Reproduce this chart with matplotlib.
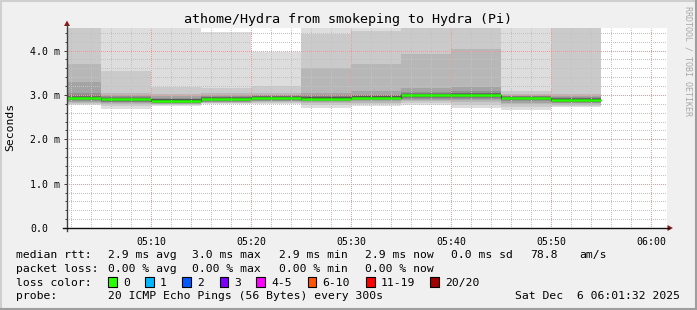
import numpy as np
import matplotlib
matplotlib.use("Agg")
import matplotlib.pyplot as plt
from matplotlib.patches import Rectangle, Polygon
from matplotlib.lines import Line2D

# ---------------- data ----------------
# 5-minute step end times, minutes after 05:00
step_end_min = [5, 10, 15, 20, 25, 30, 35, 40, 45, 50, 55]
# median rtt per step (ms)
median_ms = [2.93, 2.90, 2.87, 2.91, 2.93, 2.92, 2.94, 2.99, 3.00, 2.93, 2.89]
# sorted rtts of the 20 pings per step (ms)
pings_0505 = [2.77, 2.80, 2.83, 2.85, 2.86, 2.88, 2.89, 2.90, 2.91, 2.92, 2.94, 2.95, 2.96, 2.98, 3.00, 3.05, 3.30, 3.70, 4.80, 6.00]
pings_0510 = [2.69, 2.75, 2.79, 2.82, 2.84, 2.85, 2.86, 2.87, 2.88, 2.89, 2.91, 2.92, 2.93, 2.94, 2.95, 2.97, 3.01, 3.04, 3.55, 5.00]
pings_0515 = [2.76, 2.78, 2.79, 2.80, 2.81, 2.82, 2.83, 2.84, 2.85, 2.86, 2.88, 2.89, 2.90, 2.91, 2.92, 2.94, 2.97, 3.02, 3.17, 4.60]
pings_0520 = [2.79, 2.81, 2.83, 2.84, 2.85, 2.86, 2.87, 2.88, 2.89, 2.90, 2.92, 2.93, 2.94, 2.95, 2.96, 2.97, 3.00, 3.05, 3.16, 4.41]
pings_0525 = [2.80, 2.82, 2.84, 2.86, 2.87, 2.88, 2.89, 2.90, 2.91, 2.92, 2.94, 2.95, 2.96, 2.97, 2.98, 2.99, 3.01, 3.05, 3.20, 3.96]
pings_0530 = [2.70, 2.77, 2.81, 2.84, 2.86, 2.87, 2.88, 2.89, 2.90, 2.91, 2.93, 2.94, 2.95, 2.96, 2.97, 2.99, 3.04, 3.60, 4.37, 5.00]
pings_0535 = [2.76, 2.80, 2.83, 2.86, 2.88, 2.89, 2.90, 2.91, 2.92, 2.93, 2.95, 2.96, 2.97, 2.98, 2.99, 3.01, 3.08, 3.70, 4.44, 5.00]
pings_0540 = [2.78, 2.82, 2.86, 2.89, 2.91, 2.93, 2.95, 2.96, 2.97, 2.98, 3.00, 3.01, 3.02, 3.03, 3.04, 3.06, 3.15, 3.93, 4.70, 5.00]
pings_0545 = [2.70, 2.78, 2.85, 2.89, 2.92, 2.94, 2.96, 2.97, 2.98, 2.99, 3.01, 3.02, 3.03, 3.04, 3.05, 3.08, 3.17, 4.04, 4.80, 5.00]
pings_0550 = [2.66, 2.73, 2.79, 2.83, 2.86, 2.88, 2.89, 2.90, 2.91, 2.92, 2.94, 2.94, 2.95, 2.96, 2.97, 2.98, 3.00, 3.02, 3.09, 5.00]
pings_0555 = [2.72, 2.75, 2.78, 2.81, 2.83, 2.84, 2.85, 2.86, 2.87, 2.88, 2.90, 2.91, 2.92, 2.93, 2.94, 2.95, 2.97, 3.02, 4.80, 5.00]

x_tick_min = [10, 20, 30, 40, 50, 60]
x_tick_labels = ["05:10", "05:20", "05:30", "05:40", "05:50", "06:00"]
y_tick_vals = [0, 1, 2, 3, 4]
y_tick_labels = ["0.0", "1.0 m", "2.0 m", "3.0 m", "4.0 m"]

title = "athome/Hydra from smokeping to Hydra (Pi)"
rtt_stats = ["2.9 ms avg", "3.0 ms max", "2.9 ms min", "2.9 ms now", "0.0 ms sd", "78.8", "am/s"]
loss_stats = ["0.00 % avg", "0.00 % max", "0.00 % min", "0.00 % now"]
loss_labels = ["0", "1", "2", "3", "4-5", "6-10", "11-19", "20/20"]
loss_colors = ["#26ff00", "#00b8ff", "#0059ff", "#7e00ff", "#ff00ff", "#ff5500", "#ff0000", "#a10000"]
probe_text = "20 ICMP Echo Pings (56 Bytes) every 300s"
date_text = "Sat Dec  6 06:01:32 2025"

# ---------------- figure ----------------
W, H = 697, 310
MONO = "DejaVu Sans Mono"
fig = plt.figure(figsize=(W / 100, H / 100), dpi=100, facecolor="#f0f0f0")

def fx(x):
    return x / W

def fy(y):
    return 1 - y / H

ax_l, ax_r, ax_b, ax_t = 67, 667, 228, 28
ax = fig.add_axes([fx(ax_l), fy(ax_b), (ax_r - ax_l) / W, (ax_b - ax_t) / H])
ax.set_facecolor("white")
ax.set_xlim(1.6, 61.6)
ax.set_ylim(0, 4.51)
for s in ax.spines.values():
    s.set_visible(False)

pings = np.array([pings_0505, pings_0510, pings_0515, pings_0520, pings_0525, pings_0530,
                  pings_0535, pings_0540, pings_0545, pings_0550, pings_0555])
pings = np.sort(pings, axis=1)
ends = np.array(step_end_min, dtype=float)
edges = np.concatenate([[ends[0] - 5], ends])
n = pings.shape[1]
half = n // 2
for i in range(1, half + 1):
    g = int(190 / half * (half - i)) + 50
    col = "#%02x%02x%02x" % (g, g, g)
    ax.stairs(pings[:, n - i], edges, baseline=pings[:, i - 1], fill=True,
              color=col, lw=0, zorder=1 + i * 0.01)

# median line
ax.stairs(median_ms, edges, baseline=None, color="#202020", lw=0.8, zorder=3)
ax.hlines(median_ms, edges[:-1], edges[1:], color=loss_colors[0], lw=1.8, zorder=3.1)

# grid (1px on / 1px off, phase-shifted half a pixel so dots land on whole pixels)
ax.set_xticks(x_tick_min)
ax.set_xticklabels(x_tick_labels)
ax.set_xticks([m for m in range(2, 61, 2) if m % 10], minor=True)
ax.set_yticks(y_tick_vals)
ax.set_yticklabels(y_tick_labels)
ax.set_yticks([k / 5 for k in range(1, 23) if k % 5], minor=True)
ax.set_axisbelow(False)
dot = (0.5, (1, 1))
ax.grid(which="minor", color="#c2c2c2", lw=0.72, ls=dot)
ax.grid(which="major", color="#ec9a9a", lw=0.72, ls=dot)
ax.tick_params(axis="both", which="both", direction="out", color="#404040", width=0.72,
               labelsize=7.1, labelcolor="black")
ax.tick_params(axis="x", which="major", length=0, pad=6.2)
ax.tick_params(axis="x", which="minor", length=0)
ax.tick_params(axis="y", which="major", length=2.2, pad=24.2)
ax.tick_params(axis="y", which="minor", length=1.2)
for lab in ax.get_xticklabels() + ax.get_yticklabels():
    lab.set_fontfamily(MONO)
for lab in ax.get_yticklabels():
    lab.set_horizontalalignment("left")

# axes lines with arrows (figure pixel coords)
fig.add_artist(Line2D([fx(ax_l), fx(ax_l)], [fy(231), fy(25)], color="#404040", lw=1.0))
fig.add_artist(Line2D([fx(63), fx(669)], [fy(ax_b), fy(ax_b)], color="#101010", lw=1.0))
fig.add_artist(Polygon([[fx(ax_l - 3), fy(26)], [fx(ax_l + 3), fy(26)], [fx(ax_l), fy(20.5)]],
                       closed=True, transform=fig.transFigure, color="#8b1a1a", lw=0))
fig.add_artist(Polygon([[fx(667.5), fy(ax_b - 3)], [fx(667.5), fy(ax_b + 3)], [fx(673), fy(ax_b)]],
                       closed=True, transform=fig.transFigure, color="#8b1a1a", lw=0))

# title, axis label, watermark
fig.text(fx(348.5), fy(23.5), title, family=MONO, fontsize=9.6, ha="center", va="baseline")
fig.text(fx(10.5), fy(127), "Seconds", family=MONO, fontsize=8.2, rotation=90,
         ha="center", va="center")
fig.text(fx(688), fy(61), "RRDTOOL / TOBI OETIKER", family=MONO, fontsize=6.0,
         rotation=270, ha="center", va="center", color="#a8a8a8")

# legend rows
fs = 8.2
rows_y = [257.7, 271.7, 285.7, 299.3]
fig.text(fx(16), fy(rows_y[0]), "median rtt:", family=MONO, fontsize=fs, va="baseline")
for x, s in zip([107.6, 192.4, 279, 365, 451, 530, 579], rtt_stats):
    fig.text(fx(x), fy(rows_y[0]), s, family=MONO, fontsize=fs, va="baseline")
fig.text(fx(16), fy(rows_y[1]), "packet loss:", family=MONO, fontsize=fs, va="baseline")
for x, s in zip([107.6, 192.4, 279, 365], loss_stats):
    fig.text(fx(x), fy(rows_y[1]), s, family=MONO, fontsize=fs, va="baseline")
fig.text(fx(16), fy(rows_y[2]), "loss color:", family=MONO, fontsize=fs, va="baseline")
box_x = [108, 145, 182, 219.6, 256, 307.6, 366, 430]
for bx, lab, col in zip(box_x, loss_labels, loss_colors):
    fig.add_artist(Rectangle((fx(bx), fy(287)), 8.6 / W, 10 / H, transform=fig.transFigure,
                             facecolor=col, edgecolor="black", lw=0.8))
    fig.text(fx(bx + 15), fy(rows_y[2]), lab, family=MONO, fontsize=fs, va="baseline")
fig.text(fx(16), fy(rows_y[3]), "probe:", family=MONO, fontsize=fs, va="baseline")
fig.text(fx(107.6), fy(rows_y[3]), probe_text, family=MONO, fontsize=fs, va="baseline")
fig.text(fx(680), fy(rows_y[3]), date_text, family=MONO, fontsize=fs, va="baseline", ha="right")

# 3D frame
fig.add_artist(Line2D([0, 1], [fy(1), fy(1)], color="#cfcfcf", lw=1.5))
fig.add_artist(Line2D([fx(1), fx(1)], [0, 1], color="#cfcfcf", lw=1.5))
fig.add_artist(Line2D([0, 1], [fy(H - 1), fy(H - 1)], color="#9e9e9e", lw=1.5))
fig.add_artist(Line2D([fx(W - 1), fx(W - 1)], [0, 1], color="#9e9e9e", lw=1.5))

fig.savefig("out.png", dpi=100, facecolor=fig.get_facecolor())
